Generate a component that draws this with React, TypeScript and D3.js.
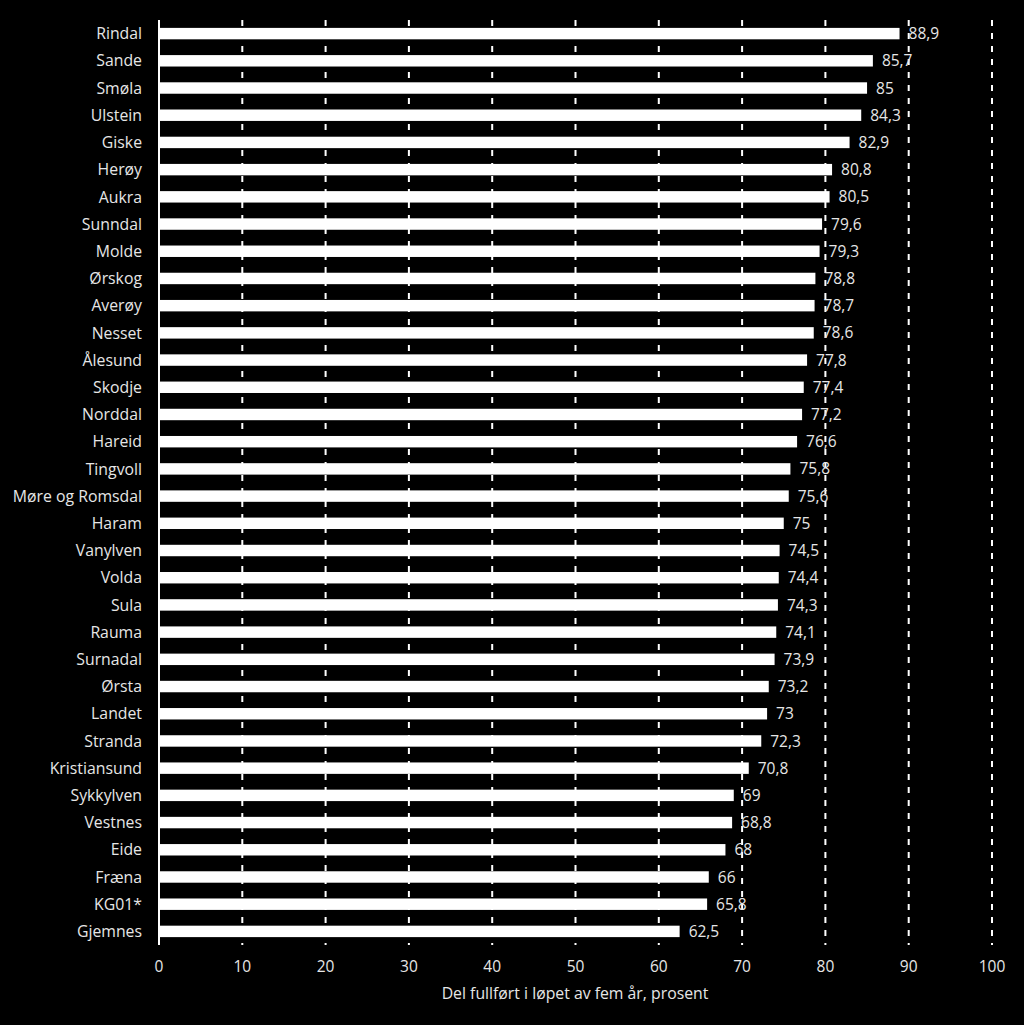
import { useEffect, useRef } from 'react';
import * as d3 from 'd3';

const municipalities = [
  'Rindal', 'Sande', 'Smøla', 'Ulstein', 'Giske', 'Herøy', 'Aukra', 'Sunndal', 'Molde',
  'Ørskog', 'Averøy', 'Nesset', 'Ålesund', 'Skodje', 'Norddal', 'Hareid', 'Tingvoll',
  'Møre og Romsdal', 'Haram', 'Vanylven', 'Volda', 'Sula', 'Rauma', 'Surnadal', 'Ørsta',
  'Landet', 'Stranda', 'Kristiansund', 'Sykkylven', 'Vestnes', 'Eide', 'Fræna', 'KG01*', 'Gjemnes',
];

const completed = [
  88.9, 85.7, 85, 84.3, 82.9, 80.8, 80.5, 79.6, 79.3,
  78.8, 78.7, 78.6, 77.8, 77.4, 77.2, 76.6, 75.8,
  75.6, 75, 74.5, 74.4, 74.3, 74.1, 73.9, 73.2,
  73, 72.3, 70.8, 69, 68.8, 68, 66, 65.8, 62.5,
];

const xTicks = [0, 10, 20, 30, 40, 50, 60, 70, 80, 90, 100];
const xTitle = 'Del fullført i løpet av fem år, prosent';

const W = 1024;
const H = 1025;

export default function App() {
  const svgRef = useRef<SVGSVGElement>(null);

  useEffect(() => {
    if (!svgRef.current) return;
    document.body.style.margin = '0';

    const svg = d3.select(svgRef.current);
    svg.selectAll('*').remove();

    const font = 'Open Sans, Noto Sans, sans-serif';
    const textColor = '#e6e6e6';

    svg.append('rect').attr('width', W).attr('height', H).attr('fill', '#000');

    const x = d3.scaleLinear().domain([0, 100]).range([159, 992]);
    const y = d3.scaleBand<string>()
      .domain(municipalities)
      .range([20, 945])
      .paddingInner(0.58)
      .paddingOuter(0.29);

    const data = municipalities.map((name, i) => ({ name, value: completed[i] }));

    // stiplede rutenettlinjer
    svg.append('g')
      .selectAll('line')
      .data(xTicks.filter(t => t > 0))
      .join('line')
      .attr('x1', d => x(d))
      .attr('x2', d => x(d))
      .attr('y1', 20)
      .attr('y2', 945)
      .attr('stroke', '#fff')
      .attr('stroke-width', 2)
      .attr('stroke-dasharray', '6,7');

    // søyler
    svg.append('g')
      .selectAll('rect')
      .data(data)
      .join('rect')
      .attr('x', x(0))
      .attr('y', d => y(d.name)!)
      .attr('width', d => x(d.value) - x(0))
      .attr('height', y.bandwidth())
      .attr('fill', '#fff');

    // akselinje
    svg.append('line')
      .attr('x1', x(0))
      .attr('x2', x(0))
      .attr('y1', 20)
      .attr('y2', 945)
      .attr('stroke', '#fff')
      .attr('stroke-width', 2);

    // verdietiketter
    svg.append('g')
      .selectAll('text')
      .data(data)
      .join('text')
      .attr('x', d => x(d.value) + 9)
      .attr('y', d => y(d.name)! + y.bandwidth() / 2)
      .attr('dy', '0.36em')
      .attr('fill', textColor)
      .attr('font-family', font)
      .attr('font-size', 15.5)
      .text(d => String(d.value).replace('.', ','));

    // kategorietiketter
    svg.append('g')
      .selectAll('text')
      .data(data)
      .join('text')
      .attr('x', 142)
      .attr('y', d => y(d.name)! + y.bandwidth() / 2)
      .attr('dy', '0.36em')
      .attr('text-anchor', 'end')
      .attr('fill', textColor)
      .attr('font-family', font)
      .attr('font-size', 15.8)
      .text(d => d.name);

    // x-akse tall
    svg.append('g')
      .selectAll('text')
      .data(xTicks)
      .join('text')
      .attr('x', d => x(d))
      .attr('y', 966)
      .attr('dy', '0.36em')
      .attr('text-anchor', 'middle')
      .attr('fill', textColor)
      .attr('font-family', font)
      .attr('font-size', 15.5)
      .text(d => String(d));

    svg.append('text')
      .attr('x', 575)
      .attr('y', 993)
      .attr('dy', '0.36em')
      .attr('text-anchor', 'middle')
      .attr('fill', textColor)
      .attr('font-family', font)
      .attr('font-size', 15.8)
      .text(xTitle);
  }, []);

  return (
    <svg
      ref={svgRef}
      width={W}
      height={H}
      style={{ display: 'block', position: 'absolute', top: 0, left: 0 }}
    />
  );
}
